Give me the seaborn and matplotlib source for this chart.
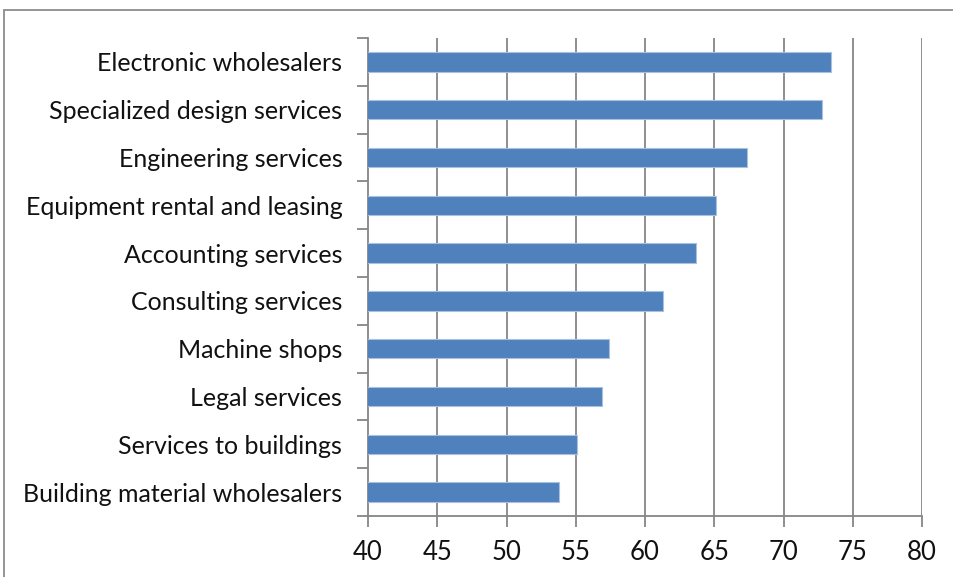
import matplotlib
matplotlib.use("Agg")
import matplotlib.pyplot as plt
import seaborn as sns
import pandas as pd
import numpy as np
from matplotlib.patches import Rectangle

categories = ["Electronic wholesalers", "Specialized design services", "Engineering services",
              "Equipment rental and leasing", "Accounting services", "Consulting services",
              "Machine shops", "Legal services", "Services to buildings",
              "Building material wholesalers"]
values = [73.4, 72.8, 67.4, 65.1, 63.7, 61.3, 57.4, 56.9, 55.1, 53.8]
xticks = [40, 45, 50, 55, 60, 65, 70, 75, 80]

sns.set_style("white")
plt.rcParams['font.family'] = ['Lato', 'DejaVu Sans']

df = pd.DataFrame({"cat": categories, "val": values})

fig = plt.figure(figsize=(9.54, 5.77), dpi=100)
ax = fig.add_axes([368/954, (577-516)/577, (922-368)/954, (516-38)/577])

grid_c = "#868686"
for t in xticks[1:]:
    ax.axvline(t, color=grid_c, lw=1.3, zorder=0)

sns.barplot(data=df, x="val", y="cat", orient="h", color="#4F81BD", saturation=1,
            width=0.41, edgecolor="#A9C0DE", linewidth=0.8, ax=ax, zorder=3)

ax.set_xlim(40, 80)
ax.set_ylim(len(categories) - 0.5, -0.5)
ax.set_xticks(xticks)
ax.set_xticklabels([str(t) for t in xticks])
ax.set_xlabel("")
ax.set_ylabel("")
for s in ["top", "right"]:
    ax.spines[s].set_visible(False)
for s in ["left", "bottom"]:
    ax.spines[s].set_color(grid_c)
    ax.spines[s].set_linewidth(1.3)

ax.tick_params(axis="x", length=8, width=1.3, color=grid_c, labelsize=18.5, pad=9, direction="out", bottom=True,
               labelcolor="#111111")
ax.tick_params(axis="y", which="major", length=0, labelsize=18, pad=18.5, labelcolor="#111111")
ax.set_yticks(np.arange(-0.5, len(categories), 1), minor=True)
ax.tick_params(axis="y", which="minor", length=8, width=1.3, color=grid_c, direction="out", left=True)

fig.patches.append(Rectangle((4/954, -0.1), 1.1, (577-10)/577 + 0.1, transform=fig.transFigure,
                             fill=False, edgecolor="#8c8c8c", lw=1.3, zorder=0))

fig.savefig("out.png", dpi=100)
